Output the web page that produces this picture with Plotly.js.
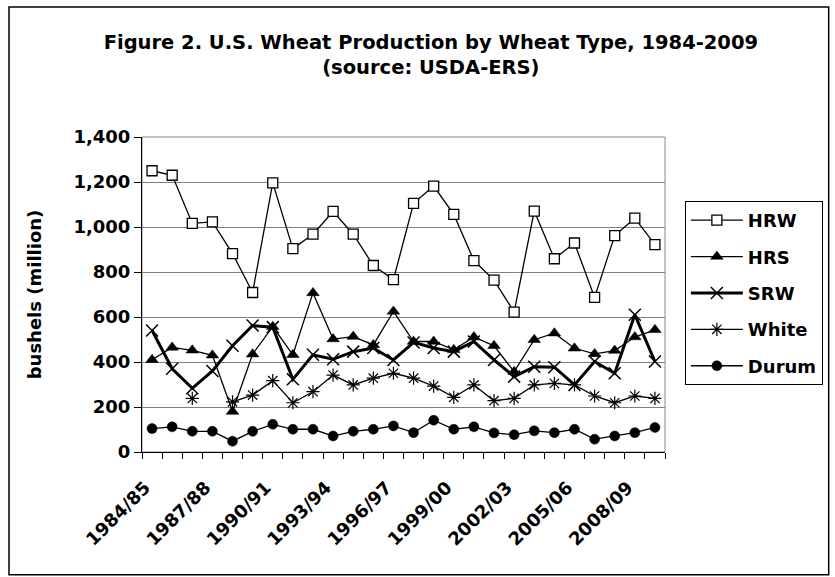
<!DOCTYPE html>
<html>
<head>
<meta charset="utf-8">
<script src="https://cdn.plot.ly/plotly-3.0.1.min.js"></script>
<style>
  html, body { margin: 0; padding: 0; background: #fff; }
  #chart { width: 835px; height: 577px; }
</style>
</head>
<body>
<div id="chart"></div>
<script>
// crop years 1984/85 - 2009/10
const years = ['1984/85','1985/86','1986/87','1987/88','1988/89','1989/90','1990/91','1991/92','1992/93',
  '1993/94','1994/95','1995/96','1996/97','1997/98','1998/99','1999/00','2000/01','2001/02','2002/03',
  '2003/04','2004/05','2005/06','2006/07','2007/08','2008/09','2009/10'];

// production, million bushels
const hrw = [1250,1230,1016,1023,882,709,1196,904,968,1069,968,829,766,1105,1182,1056,851,764,622,1071,859,929,687,962,1039,922];
const hrs = [410,465,452,430,180,435,557,432,707,502,513,476,625,491,491,454,511,472,357,499,528,461,436,451,511,543];
const srw = [540,370,283,360,472,562,555,323,432,412,446,462,409,487,462,446,491,409,335,379,377,298,402,350,610,402];
const white = [null,null,238,null,223,253,317,219,268,342,298,328,350,328,293,243,298,228,238,298,305,298,249,219,249,238];
const durum = [104,112,92,92,48,92,123,101,101,71,92,101,116,86,141,101,112,85,77,94,86,101,57,71,86,109];

// only every third year gets a label
const tickText = years.map((y, i) => (i % 3 === 0 ? y : ''));

const FONT = 'DejaVu Sans, Arial, sans-serif';

function series(name, y, symbol, opts) {
    return {
        x: years,
        y: y,
        name: name,
        legendgroup: name,
        type: 'scatter',
        mode: 'lines+markers',
        connectgaps: false,
        line: { color: '#000', width: opts.lw || 1.3 },
        marker: {
            symbol: symbol,
            size: opts.size || 10,
            color: opts.fill || '#000',
            line: { color: '#000', width: opts.mlw || 1.2 }
        }
    };
}

let graphData = [
    series('HRW', hrw, 'square', { fill: '#fff', size: 10, mlw: 1.3 }),
    series('HRS', hrs, 'triangle-up', { size: 11, mlw: 0.5 }),
    series('SRW', srw, 'x-thin-open', { lw: 3, size: 12, mlw: 1.5 }),
    series('White', white, 'asterisk-open', { size: 11, mlw: 1.2 }),
    series('Durum', durum, 'circle', { size: 10, mlw: 0.5 })
];

// plot area frame (grey) and outer chart border
let shapes = [
    {
        type: 'rect', xref: 'paper', yref: 'paper',
        x0: 0, x1: 1, y0: 0, y1: 1,
        line: { color: '#888', width: 1 },
        layer: 'below'
    },
    {
        type: 'rect', xref: 'paper', yref: 'paper',
        x0: -0.2543, x1: 1.313, y0: -0.390, y1: 1.4127,
        line: { color: '#000', width: 1.5 }
    }
];

let layout = {
    width: 835,
    height: 577,
    paper_bgcolor: '#fff',
    plot_bgcolor: '#fff',
    font: { family: FONT, color: '#000', size: 18, weight: 'bold' },
    title: {
        text: 'Figure 2. U.S. Wheat Production by Wheat Type, 1984-2009<br>(source: USDA-ERS)',
        font: { family: FONT, size: 19.5, weight: 'bold', color: '#000' },
        x: 0.516, xref: 'container', xanchor: 'center',
        y: 0.915, yref: 'container', yanchor: 'top'
    },
    margin: { l: 142, r: 166, t: 137, b: 125 },
    showlegend: true,
    legend: {
        x: 1.038, y: 0.797, xanchor: 'left', yanchor: 'top',
        bordercolor: '#000', borderwidth: 1, bgcolor: '#fff',
        font: { family: FONT, size: 18, weight: 'bold', color: '#000' },
        itemwidth: 52,
        tracegroupgap: 10
    },
    xaxis: {
        type: 'category',
        range: [-0.5, years.length - 0.5],
        tickmode: 'array',
        tickvals: years,
        ticktext: tickText,
        tickson: 'boundaries',
        ticks: 'outside',
        ticklen: 6,
        tickcolor: '#000',
        tickangle: -45,
        ticklabelstandoff: 17,
        ticklabelshift: -7,
        showgrid: false,
        showline: true,
        linecolor: '#000',
        linewidth: 1,
        automargin: false,
        tickfont: { family: FONT, size: 18, weight: 'bold', color: '#000' }
    },
    yaxis: {
        range: [0, 1400],
        dtick: 200,
        tickformat: ',',
        ticks: 'outside',
        ticklen: 7,
        tickcolor: '#000',
        showgrid: true,
        gridcolor: '#808080',
        gridwidth: 1,
        showline: true,
        linecolor: '#000',
        linewidth: 1,
        zeroline: false,
        automargin: false,
        tickfont: { family: FONT, size: 18, weight: 'bold', color: '#000' },
        title: {
            text: 'bushels (million)',
            font: { family: FONT, size: 18, weight: 'bold', color: '#000' },
            standoff: 27
        }
    },
    shapes: shapes
};

let options = {
    displayModeBar: false,
    staticPlot: true
};

Plotly.newPlot('chart', graphData, layout, options);
</script>
</body>
</html>
